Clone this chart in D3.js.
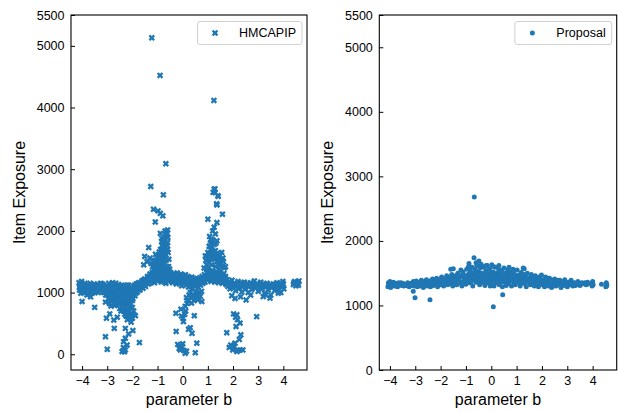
<!DOCTYPE html>
<html>
<head>
<meta charset="utf-8">
<script src="https://cdn.jsdelivr.net/npm/d3@7"></script>
<style>
body { margin: 0; background: #fff; }
text { font-family: "Liberation Sans", Arial, Helvetica, sans-serif; fill: #000; }
</style>
</head>
<body>
<svg id="chart" width="619" height="412"></svg>
<script>
// HMCAPIP: [parameter b, item exposure]
var hmcBand = [
[-4.12,1160],[-4.10,1040],[-4.08,1100],[-4.05,990],[-4.02,1180],[-4.00,1060],[-3.97,1120],[-3.95,1010],[-3.92,1080],[-3.88,1150],[-3.85,1040],[-3.80,960],[-3.78,1100],[-3.74,1020],[-3.70,1070],[-3.66,930],[-3.62,1110],[-3.58,1040],[-3.54,1080],[-3.50,1000],[-3.46,1120],[-3.42,1060],[-3.38,1130],[-3.34,1090],[-3.30,1040],[-3.26,1150],[-3.22,1080],[-3.18,1010],[-3.14,1120],[-3.10,1060],[-3.06,960],[-3.02,1100],
[-2.98,1030],[-2.96,900],[-2.94,1150],[-2.92,980],[-2.90,820],[-2.88,1080],[-2.85,940],[-2.83,1010],[-2.80,870],[-2.78,1160],[-2.75,1050],[-2.72,930],[-2.70,790],[-2.68,1100],[-2.65,990],[-2.62,880],[-2.60,1040],[-2.57,950],[-2.55,1130],[-2.52,830],[-2.50,1000],[-2.47,910],[-2.45,1070],[-2.42,760],[-2.40,970],[-2.37,860],[-2.35,1110],[-2.32,1010],[-2.30,700],[-2.28,920],[-2.25,1060],[-2.22,820],[-2.20,980],[-2.18,650],[-2.15,1120],[-2.12,900],[-2.10,1030],[-2.08,760],[-2.05,960],[-2.02,1080],[-2.00,870],
[-2.95,1080],[-2.90,1000],[-2.86,1120],[-2.80,1040],[-2.76,960],[-2.70,1000],[-2.66,1150],[-2.60,930],[-2.55,1020],[-2.50,890],[-2.45,980],[-2.40,1060],[-2.38,900],[-2.33,830],[-2.30,1000],[-2.27,760],[-2.24,890],[-2.20,1060],[-2.18,730],[-2.14,860],[-2.10,970],[-2.06,640],[-2.04,1050],[-2.00,760],[-1.98,900],[-2.25,620],[-2.15,600],[-2.10,580],[-2.30,650],[-2.00,650],[-2.35,700],[-2.50,740],[-2.65,820],[-2.85,780],
[-1.97,1000],[-1.94,1100],[-1.90,950],[-1.87,1050],[-1.84,1140],[-1.80,1010],[-1.77,1090],[-1.73,1160],[-1.70,1040],[-1.66,1120],[-1.62,1190],[-1.58,1070],[-1.55,1150],[-1.51,1220],[-1.48,1100],[-1.44,1180],[-1.40,1260],[-1.37,1140],[-1.33,1220],[-1.30,1300],
[-1.27,1180],[-1.24,1250],[-1.21,1330],[-1.18,1210],[-1.15,1290],[-1.12,1160],[-1.09,1360],[-1.06,1240],[-1.03,1310],[-1.00,1190],[-0.97,1270],[-0.94,1350],[-0.91,1220],[-0.88,1300],[-0.85,1170],[-0.82,1380],[-0.79,1250],[-0.76,1320],[-0.73,1200],[-0.70,1280],[-0.67,1150],[-0.64,1340],[-0.61,1230],[-0.58,1300],[-0.55,1180],[-0.52,1260],[-0.49,1330],[-0.46,1210],[-0.43,1280],[-0.40,1160],[-0.37,1240],[-0.34,1310],
[-0.31,1190],[-0.28,1260],[-0.25,1140],[-0.22,1320],[-0.19,1220],[-0.16,1280],[-0.13,1170],[-0.10,1250],[-0.07,1300],[-0.04,1110],[-0.01,1200],[0.02,1270],[0.05,1150],[0.08,1230],[0.11,1290],[0.14,1120],[0.17,1200],[0.20,1260],[0.23,1090],[0.26,1180],[0.29,1240],[0.32,1140],[0.35,1210],[0.38,1060],[0.41,1160],[0.44,1230],[0.47,1110],[0.50,1190],[0.53,1020],[0.56,1140],[0.59,1220],[0.62,1090],[0.65,1170],[0.68,1240],[0.71,1120],[0.74,1200],[0.77,1260],
[0.80,1150],[0.83,1220],[0.86,1290],[0.89,1170],[0.92,1250],[0.95,1330],[0.98,1200],[1.01,1280],[1.04,1360],[1.07,1230],[1.10,1310],[1.13,1180],[1.16,1270],[1.19,1350],[1.22,1220],[1.25,1300],[1.28,1170],[1.31,1260],[1.34,1340],[1.37,1210],[1.40,1290],[1.43,1160],[1.46,1250],[1.49,1320],[1.52,1200],[1.55,1280],[1.58,1150],[1.61,1240],[1.64,1310],[1.67,1190],[1.70,1260],[1.73,1130],[1.76,1210],
[1.80,1100],[1.84,1170],[1.88,1060],[1.92,1140],[1.96,1200],[2.00,1080],[2.05,1150],[2.10,1030],[2.15,1120],[2.20,1180],[2.25,1070],[2.30,1140],[2.35,1010],[2.40,1110],[2.45,1170],[2.50,1060],[2.55,1130],[2.60,1000],[2.65,1100],[2.70,1160],[2.75,1050],[2.80,1120],[2.85,1190],[2.90,1080],[2.95,1140],[3.00,1020],[3.05,1110],[3.10,1170],[3.15,1060],[3.20,1130],[3.25,990],[3.30,1090],[3.35,1150],[3.40,1040],[3.45,1110],[3.50,960],[3.55,1080],[3.60,1140],[3.65,1030],[3.70,1100],[3.75,1160],[3.80,1050],[3.85,1120],[3.90,1000],[3.95,1090],[3.98,1180],[4.00,1140],[4.02,1060],
[4.40,1130],[4.45,1180],[4.50,1110],[4.55,1160],[4.60,1120],[4.62,1190]
];
var hmcFill = [
[-4.10,1080],[-4.05,1130],[-3.98,1000],[-3.90,1030],[-3.82,1120],[-3.76,1060],[-3.68,1150],[-3.60,990],[-3.52,1140],[-3.44,1020],[-3.36,1000],[-3.28,1100],[-3.20,1140],[-3.12,1000],[-3.04,1060],
[-2.97,960],[-2.93,1100],[-2.87,870],[-2.82,1110],[-2.77,900],[-2.73,1070],[-2.67,940],[-2.63,1060],[-2.58,860],[-2.53,1080],[-2.48,950],[-2.43,1120],[-2.39,820],[-2.34,940],[-2.29,1080],[-2.26,850],[-2.21,1120],[-2.17,800],[-2.13,1000],[-2.09,860],[-2.03,920],[-1.99,1040],[-2.23,700],[-2.12,700],[-2.07,820],[-2.19,930],[-2.31,880],[-2.44,900],[-2.56,980],[-2.69,1060],[-2.84,1060],
[-1.95,1050],[-1.91,1120],[-1.86,990],[-1.82,1080],[-1.78,1150],[-1.74,1050],[-1.68,1080],[-1.64,1160],[-1.60,1110],[-1.56,1200],[-1.52,1130],[-1.46,1150],[-1.42,1220],[-1.38,1190],[-1.34,1260],[-1.32,1150],
[-1.25,1290],[-1.20,1240],[-1.14,1330],[-1.08,1200],[-1.02,1260],[-0.96,1220],[-0.90,1330],[-0.84,1260],[-0.78,1200],[-0.72,1340],[-0.66,1260],[-0.60,1190],[-0.54,1300],[-0.48,1240],[-0.42,1200],[-0.36,1270],[-0.30,1230],[-0.24,1190],[-0.18,1270],[-0.12,1220],[-0.06,1160],[0.00,1240],[0.06,1190],[0.12,1250],[0.18,1150],[0.24,1220],[0.30,1180],[0.36,1250],[0.42,1120],[0.48,1160],[0.54,1200],[0.60,1150],[0.66,1210],[0.72,1170],[0.78,1220],[0.84,1180],[0.90,1230],[0.96,1270],[1.02,1230],[1.08,1290],[1.14,1240],[1.20,1280],[1.26,1240],[1.32,1300],[1.38,1250],[1.44,1300],[1.50,1230],[1.56,1250],[1.62,1200],[1.68,1230],[1.74,1180],
[1.82,1140],[1.90,1100],[1.98,1130],[2.08,1100],[2.18,1140],[2.28,1110],[2.38,1150],[2.48,1100],[2.58,1150],[2.68,1120],[2.78,1090],[2.88,1130],[2.98,1090],[3.08,1140],[3.18,1100],[3.28,1130],[3.38,1100],[3.48,1130],[3.58,1110],[3.68,1130],[3.78,1100],[3.88,1150],[3.96,1130],[4.42,1160],[4.52,1140],[4.58,1150],
[0.30,1000],[0.40,950],[0.50,900],[0.55,980],[0.65,1000],[0.70,940],[0.45,870],[0.25,960],[0.15,920],[0.60,880],[0.35,830],[0.75,1020]
];
var hmcPeaks = [
[-1.23,5130],[-0.90,4520],[1.24,4115],[-0.67,3090],[-1.27,2720],[-0.77,2585],[1.21,2625],[1.28,2680],[1.41,2560],[1.35,2440],
[-1.16,2350],[-0.98,2325],[-0.89,2285],[-0.79,2245],[-1.09,2145],[-0.60,2015],[-0.65,1960],[-0.59,1895],[-0.89,1960],[-0.83,1880],[-1.35,1730],[-1.51,1585],[-1.55,1450],[-0.63,1420],
[-0.90,1550],[-0.85,1640],[-0.80,1720],[-0.75,1790],[-0.70,1850],[-0.62,1760],[-0.68,1680],[-0.95,1600],[-1.00,1500],[-1.10,1450],[-0.72,1560],[-0.78,1480],[-0.58,1650],[-0.55,1540],[-1.05,1400],[-1.20,1420],[-0.82,1410],[-0.66,1610],[-0.74,1700],[-0.60,1810],
[-1.00,1380],[-0.95,1450],[-0.90,1400],[-0.85,1500],[-0.80,1560],[-0.75,1620],[-0.70,1720],[-0.65,1800],[-0.62,1900],[-0.68,1930],[-0.72,1880],[-0.77,1830],[-0.82,1760],[-0.88,1700],[-0.93,1660],[-0.98,1560],[-1.04,1530],[-1.12,1520],[-1.18,1500],[-1.25,1470],[-1.30,1560],[-1.42,1500],[-0.56,1420],[-0.52,1380],[-0.64,1980],[-0.70,2000],[-0.60,1700],[-0.66,1520],[-0.74,1450],[-0.86,1580],[-0.92,1480],[-1.08,1620],[-1.14,1380],[-0.78,1640],[-0.84,1830],
[1.25,2675],[1.29,2620],[1.40,2570],[1.36,2420],[1.58,2270],[1.00,2190],[1.36,2135],[1.25,2060],[1.19,2000],[1.07,1910],[1.12,1865],[1.36,1840],
[0.90,1595],[1.49,1530],[1.00,1650],[1.10,1700],[1.20,1620],[1.30,1680],[1.40,1600],[1.55,1650],[1.60,1560],[1.15,1540],[1.05,1480],[1.35,1500],[1.45,1440],[0.95,1450],[1.25,1780],[1.15,1760],
[0.85,1400],[0.92,1520],[0.98,1560],[1.03,1600],[1.08,1560],[1.12,1620],[1.18,1680],[1.22,1560],[1.28,1600],[1.33,1560],[1.38,1640],[1.42,1520],[1.48,1600],[1.52,1460],[1.58,1420],[1.62,1500],[1.65,1400],[1.70,1420],[1.02,1400],[1.15,1450],[1.30,1420],[1.45,1380],[0.95,1380],[1.10,1800],[1.05,1750],[1.20,1850],[1.30,1950],[1.32,1800]
];
var hmcLow = [
[-4.00,855],[-3.50,760],[-3.07,845],[-3.03,585],[-2.90,655],[-2.74,555],[-2.72,420],[-3.07,285],[-3.00,80],[-2.28,420],[-2.15,330],[-2.28,260],[-2.35,205],[-2.21,150],[-2.41,45],[-2.28,70],[-1.98,385],[-1.72,190],[-2.10,640],[-2.00,585],[-1.88,625],[-2.81,935],[-2.54,825],[-2.60,600],[-2.45,700],[-2.20,560],[-1.95,700],[-2.05,520],[-2.32,40],[-2.36,110],
[-0.26,370],[-0.20,160],[-0.03,125],[0.10,15],[-0.09,70],[-0.14,95],[0.50,25],[0.56,180],[0.23,405],[0.37,340],[0.46,625],[0.01,585],[0.03,530],[-0.27,665],[-0.07,730],[0.10,775],[0.17,825],[0.33,910],[0.43,960],[0.76,855],[0.05,60],[0.00,170],[-0.10,140],[0.15,50],[0.30,430],[0.08,650],[0.20,870],[0.60,950],[0.12,700],[-0.05,620],
[1.75,350],[1.91,150],[1.99,70],[2.15,45],[2.39,70],[2.28,70],[2.02,655],[2.15,640],[2.12,450],[2.28,505],[2.31,315],[2.08,180],[2.08,905],[2.52,880],[2.94,610],[2.20,60],[2.05,120],[2.10,600],[2.25,240],[2.18,560],[1.85,110],
[3.20,935],[3.47,910],[2.70,960],[3.80,990],[3.30,960],[1.95,950],[2.30,930]
];

// Proposal: [parameter b, item exposure]
var propBand = [
[-4.08,1290],[-4.06,1350],[-4.03,1320],[-4.00,1370],[-3.97,1280],[-3.94,1340],[-3.90,1310],[-3.86,1360],[-3.82,1300],[-3.78,1340],[-3.74,1320],[-3.70,1290],[-3.66,1350],[-3.60,1330],[-3.54,1310],[-3.48,1340],[-3.40,1320],[-3.30,1350],[-3.24,1290],[-3.18,1340],[-3.12,1310],[-3.08,1370],[-3.04,1300],[-3.00,1340],
[-2.96,1380],[-2.92,1290],[-2.88,1330],[-2.84,1360],[-2.80,1300],[-2.76,1390],[-2.72,1340],[-2.68,1280],[-2.64,1370],[-2.60,1320],[-2.56,1400],[-2.52,1300],[-2.48,1350],[-2.44,1380],[-2.40,1290],[-2.36,1340],[-2.32,1410],[-2.28,1310],[-2.24,1370],[-2.20,1330],[-2.16,1420],[-2.12,1290],[-2.08,1360],[-2.04,1400],[-2.00,1320],
[-1.96,1440],[-1.92,1350],[-1.88,1300],[-1.84,1410],[-1.80,1370],[-1.76,1460],[-1.72,1320],[-1.68,1390],[-1.64,1430],[-1.60,1340],[-1.56,1480],[-1.52,1300],[-1.50,1570],[-1.48,1410],[-1.44,1360],[-1.40,1460],[-1.36,1320],[-1.32,1500],[-1.28,1400],[-1.24,1350],[-1.20,1450],[-1.16,1300],[-1.12,1520],[-1.08,1380],[-1.04,1440],[-1.00,1330],
[-0.97,1560],[-0.94,1410],[-0.91,1480],[-0.88,1650],[-0.85,1350],[-0.82,1530],[-0.79,1440],[-0.76,1590],[-0.73,1300],[-0.70,1490],[-0.68,1740],[-0.66,1400],[-0.63,1560],[-0.60,1360],[-0.57,1620],[-0.54,1450],[-0.51,1520],[-0.49,1690],[-0.46,1320],[-0.43,1580],[-0.40,1420],[-0.37,1500],[-0.34,1370],[-0.31,1600],[-0.28,1460],[-0.25,1310],[-0.22,1540],[-0.19,1410],[-0.16,1620],[-0.13,1350],[-0.10,1490],[-0.07,1570],[-0.04,1300],[-0.01,1440],
[0.02,1630],[0.05,1380],[0.08,1520],[0.11,1300],[0.14,1460],[0.17,1590],[0.20,1350],[0.23,1500],[0.26,1410],[0.29,1560],[0.32,1320],[0.35,1470],[0.38,1380],[0.41,1540],[0.44,1290],[0.47,1440],[0.50,1580],[0.53,1360],[0.56,1490],[0.59,1310],[0.62,1420],[0.65,1550],[0.68,1340],[0.71,1470],[0.74,1390],[0.77,1520],[0.80,1300],[0.83,1440],[0.86,1560],[0.89,1360],[0.92,1480],[0.95,1320],[0.98,1420],
[1.02,1550],[1.06,1360],[1.10,1470],[1.14,1300],[1.18,1510],[1.22,1400],[1.26,1580],[1.30,1340],[1.34,1450],[1.38,1290],[1.42,1500],[1.46,1380],[1.50,1430],[1.54,1320],[1.58,1480],[1.62,1360],[1.66,1420],[1.70,1300],[1.74,1460],[1.78,1340],[1.82,1400],[1.86,1290],[1.90,1440],[1.94,1350],[1.98,1470],
[2.02,1320],[2.06,1400],[2.10,1290],[2.14,1440],[2.18,1350],[2.22,1380],[2.26,1300],[2.30,1420],[2.34,1340],[2.38,1280],[2.42,1390],[2.46,1330],[2.50,1410],[2.55,1300],[2.60,1360],[2.65,1320],[2.70,1390],[2.75,1280],[2.80,1350],[2.85,1310],[2.90,1400],[2.95,1330],[3.00,1290],
[3.05,1360],[3.10,1320],[3.15,1390],[3.22,1300],[3.28,1350],[3.35,1330],[3.42,1370],[3.50,1310],[3.58,1350],[3.66,1340],[3.74,1320],[3.80,1360],[3.96,1340],[3.98,1300],[4.00,1370],[4.02,1320],[4.35,1330],[4.52,1290],[4.54,1350],[4.56,1320]
];
var propCore = [
[-2.50,1360],[-2.30,1380],[-2.10,1350],[-1.90,1400],[-1.70,1420],[-1.55,1380],[-1.45,1440],[-1.30,1400],[-1.18,1460],[-1.05,1420],[-0.95,1380],[-0.86,1450],[-0.75,1400],[-0.65,1480],[-0.55,1380],[-0.45,1440],[-0.35,1480],[-0.25,1400],[-0.15,1460],[-0.05,1380],[0.05,1450],[0.15,1400],[0.25,1470],[0.35,1410],[0.45,1370],[0.55,1430],[0.65,1460],[0.75,1400],[0.85,1380],[0.95,1440],[1.05,1410],[1.15,1380],[1.25,1440],[1.35,1400],[1.45,1360],[1.60,1410],[1.75,1390],[1.90,1370],[2.10,1360],[2.30,1370],
[-1.60,1560],[-0.90,1600],[-0.60,1660],[-0.40,1640],[-0.20,1620],[0.10,1600],[0.30,1620],[0.70,1590],[1.30,1570],[-1.20,1550],
[-4.05,1320],[-3.95,1310],[-3.85,1330],[-3.75,1300],[-3.65,1320],[-3.56,1350],[-3.45,1300],[-3.35,1310],[-3.27,1330],[-3.15,1320],[-3.05,1330],[-2.95,1330],[-2.86,1310],[-2.78,1350],[-2.70,1320],[-2.62,1350],[-2.54,1340],[-2.46,1310],[-2.38,1360],[-2.26,1340],[-2.18,1390],[-2.06,1330],[-1.98,1380],[-1.86,1360],[-1.78,1410],[-1.66,1350],[-1.58,1420],[-1.46,1330],[-1.38,1420],[-1.26,1430],[-1.14,1360],[-1.10,1480],[-1.00,1450],[-0.92,1420],[-0.84,1500],[-0.80,1360],[-0.72,1440],[-0.62,1520],[-0.58,1420],[-0.50,1360],[-0.42,1500],[-0.38,1410],[-0.30,1350],[-0.20,1500],[-0.12,1420],[-0.02,1520],[0.04,1340],[0.12,1480],[0.20,1420],[0.28,1350],[0.34,1510],[0.42,1430],[0.52,1500],[0.60,1380],[0.70,1520],[0.78,1440],[0.88,1500],[0.96,1370],[1.08,1440],[1.20,1350],[1.28,1480],[1.40,1420],[1.52,1380],[1.64,1450],[1.72,1380],[1.84,1340],[1.96,1400],[2.04,1360],[2.16,1320],[2.24,1420],[2.36,1370],[2.44,1300],[2.52,1350],[2.62,1390],[2.72,1340],[2.82,1370],[2.92,1340],[3.02,1320],[3.12,1350],[3.20,1340],[3.32,1310],[3.45,1340],[3.55,1330],[3.70,1350],[3.78,1330],[3.97,1320],[4.55,1300]
];
var propOut = [[-0.67,2680],[-3.08,1220],[-3.01,1118],[-2.42,1090],[0.08,979],[0.45,1167]];

var yTicks = [0, 1000, 2000, 3000, 4000, 5000, 5500];
var xTicks = [-4, -3, -2, -1, 0, 1, 2, 3, 4];

var color = "#1f77b4";
var svg = d3.select("#chart");

// filled "X" marker: a cross turned 45 degrees
var L = 3.4, t = 1.15;
var xMarker = "M" + [[-t,-L],[t,-L],[t,-t],[L,-t],[L,t],[t,t],[t,L],[-t,L],[-t,t],[-L,t],[-L,-t],[-t,-t]].join("L") + "Z";
var dotR = 2.5;

function panel(o) {
  var g = svg.append("g");
  var x = d3.scaleLinear().domain(o.xDomain).range([o.left, o.right]);
  var y = d3.scaleLinear().domain(o.yDomain).range([o.bottom, o.top]);

  if (o.marker == "x") {
    g.selectAll("path.pt").data(o.data).enter().append("path")
      .attr("class", "pt")
      .attr("d", xMarker)
      .attr("fill", color)
      .attr("transform", function(d) { return "translate(" + x(d[0]) + "," + y(d[1]) + ") rotate(45)"; });
  } else {
    g.selectAll("circle.pt").data(o.data).enter().append("circle")
      .attr("class", "pt")
      .attr("cx", function(d) { return x(d[0]); })
      .attr("cy", function(d) { return y(d[1]); })
      .attr("r", dotR)
      .attr("fill", color);
  }

  var xa = g.append("g").attr("transform", "translate(0," + o.bottom + ")")
    .call(d3.axisBottom(x).tickValues(xTicks).tickFormat(d3.format("d"))
      .tickSizeInner(-4).tickSizeOuter(0).tickPadding(6));
  var ya = g.append("g").attr("transform", "translate(" + o.left + ",0)")
    .call(d3.axisLeft(y).tickValues(yTicks).tickFormat(d3.format("d"))
      .tickSizeInner(-4).tickSizeOuter(0).tickPadding(6.5));
  [xa, ya].forEach(function(a) {
    a.select(".domain").remove();
    a.attr("font-size", null).attr("font-family", null);
    a.selectAll("text").attr("font-size", "12.5px");
    a.selectAll("line").attr("stroke", "#000").attr("stroke-width", 1);
  });

  g.append("rect")
    .attr("x", o.left).attr("y", o.top)
    .attr("width", o.right - o.left).attr("height", o.bottom - o.top)
    .attr("fill", "none").attr("stroke", "#000").attr("stroke-width", 1.1);

  g.append("text")
    .attr("x", (o.left + o.right) / 2).attr("y", 405)
    .attr("text-anchor", "middle").attr("font-size", "16px")
    .text("parameter b");
  g.append("text")
    .attr("transform", "translate(" + (o.left - 46) + "," + ((o.top + o.bottom) / 2) + ") rotate(-90)")
    .attr("text-anchor", "middle").attr("font-size", "16px")
    .text("Item Exposure");

  // legend
  var lg = g.append("g");
  var box = lg.append("rect");
  var lt = lg.append("text")
    .attr("x", o.right - 11).attr("y", 37)
    .attr("text-anchor", "end").attr("font-size", "12.5px")
    .text(o.name);
  var tx = o.right - 11 - lt.node().getComputedTextLength();
  box.attr("x", tx - 41.5).attr("y", 21.5).attr("width", o.right - 5 - (tx - 41.5)).attr("height", 23)
    .attr("rx", 2.5).attr("fill", "#fff").attr("fill-opacity", 0.8)
    .attr("stroke", "#d0d0d0").attr("stroke-width", 1);
  if (o.marker == "x") {
    lg.append("path").attr("d", xMarker).attr("fill", color)
      .attr("transform", "translate(" + (tx - 24) + ",33) rotate(45)");
  } else {
    lg.append("circle").attr("cx", tx - 24).attr("cy", 33).attr("r", dotR).attr("fill", color);
  }
}

panel({
  name: "HMCAPIP", marker: "x",
  data: hmcBand.concat(hmcFill, hmcPeaks, hmcLow),
  left: 71, right: 307, top: 15, bottom: 370,
  xDomain: [-4.44, 4.94], yDomain: [-255, 5500]
});
panel({
  name: "Proposal", marker: "dot",
  data: propBand.concat(propCore, propOut),
  left: 379.3, right: 616.7, top: 15, bottom: 370,
  xDomain: [-4.42, 4.95], yDomain: [0, 5500]
});
</script>
</body>
</html>
